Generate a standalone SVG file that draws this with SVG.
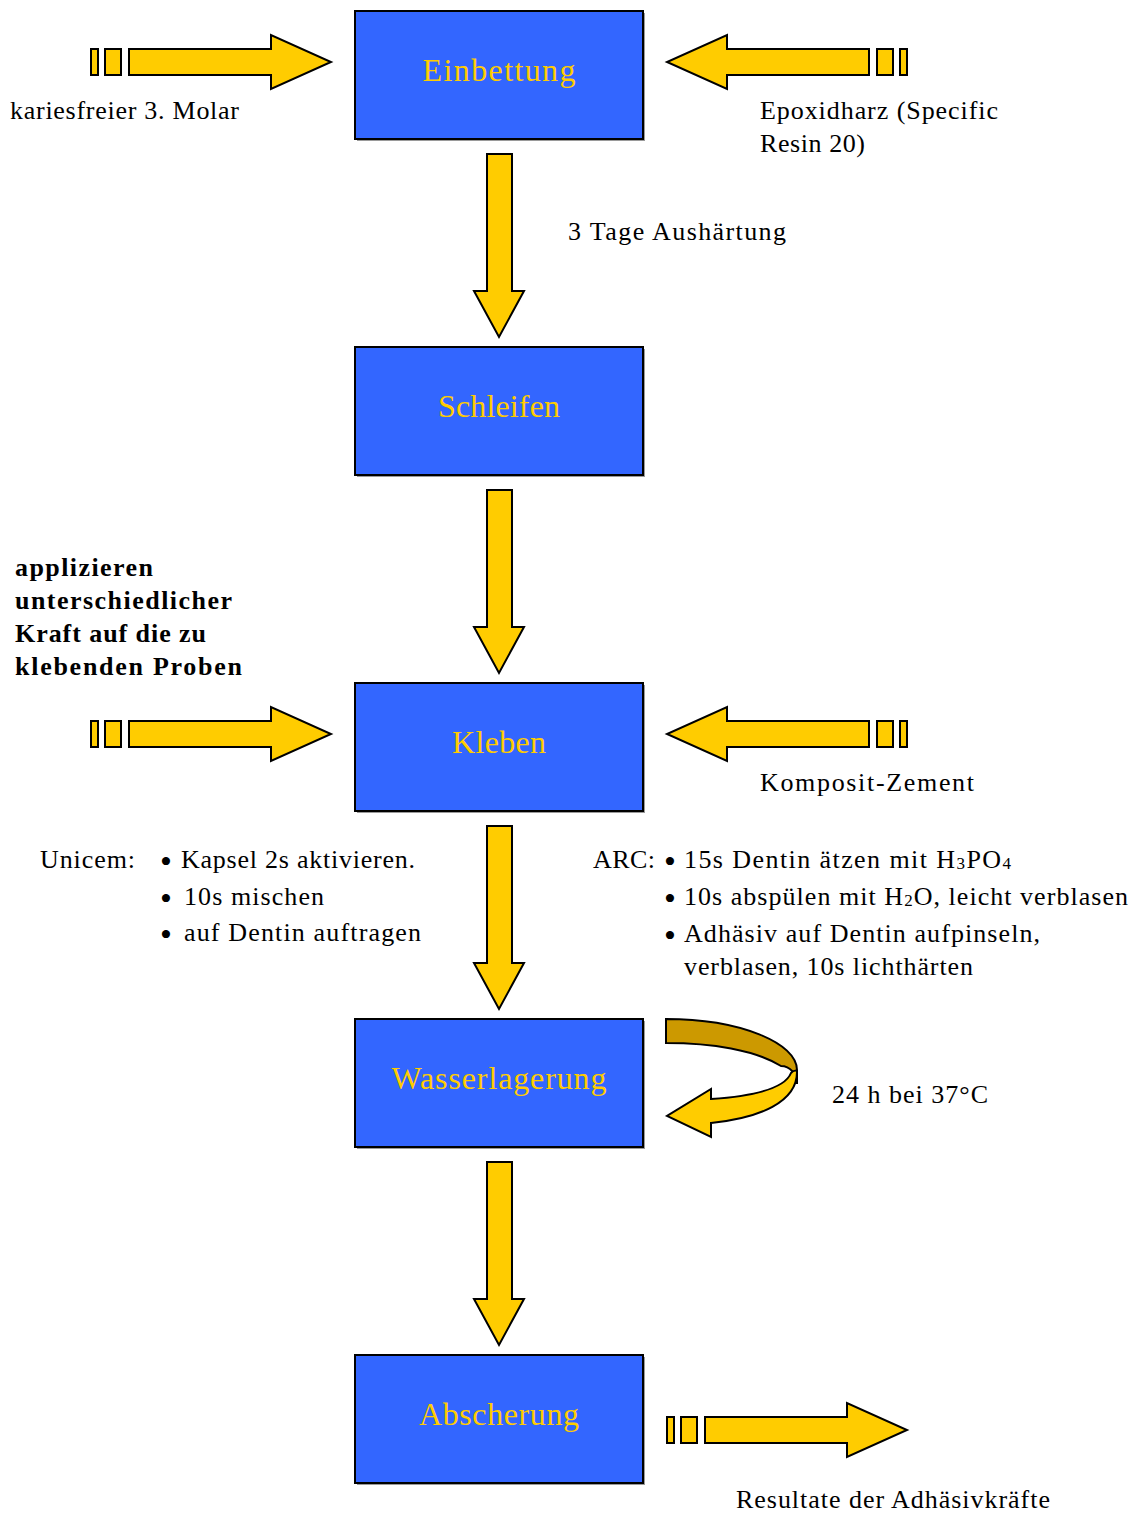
<svg xmlns="http://www.w3.org/2000/svg" width="1138" height="1514" viewBox="0 0 1138 1514">
<style>
.box{fill:#3366FF;stroke:#000;stroke-width:2}
.shadow{fill:#9a9a9a}
.bt{font-family:"Liberation Serif",serif;font-size:32px;fill:#FFCC00;text-anchor:middle}
.t{font-family:"Liberation Serif",serif;font-size:26px;fill:#000}
.b{font-family:"Liberation Serif",serif;font-size:26px;font-weight:bold;fill:#000}
.bul{font-family:"Liberation Serif",serif;font-size:34px;fill:#000;text-anchor:middle}
.arr{fill:#FFCC00;stroke:#000;stroke-width:2;stroke-linejoin:miter}
.dark{fill:#CC9900;stroke:#000;stroke-width:2}
</style>
<defs>
<g id="sideArrow">
<rect class="arr" x="91" y="-13" width="7" height="26"/>
<rect class="arr" x="105" y="-13" width="16" height="26"/>
<path class="arr" d="M129,-13 L271,-13 L271,-27 L331,0 L271,27 L271,13 L129,13 Z"/>
</g>
<path id="downArrow" class="arr" d="M487,154 L512,154 L512,291 L524,291 L499,337 L474,291 L487,291 Z"/>
</defs>

<g id="connectors">
<use href="#sideArrow" transform="translate(0,62)"/>
<use href="#sideArrow" transform="translate(998,62) scale(-1,1)"/>
<use href="#sideArrow" transform="translate(0,734)"/>
<use href="#sideArrow" transform="translate(998,734) scale(-1,1)"/>
<use href="#sideArrow" transform="translate(576,1430)"/>
<use href="#downArrow"/>
<use href="#downArrow" transform="translate(0,336)"/>
<use href="#downArrow" transform="translate(0,672)"/>
<use href="#downArrow" transform="translate(0,1008)"/>
<g id="loopArrow">
<path class="dark" d="M666,1019 C740,1019 797,1043 797,1070 L797,1084 C797,1074 790,1066 781,1066 C755,1050 712,1043 666,1043 Z"/>
<path class="arr" d="M797,1072 C797,1102 760,1118 711,1123 L711,1137 L667,1116 L711,1089 L711,1099 C755,1096 785,1088 791,1073 C794,1070 797,1070 797,1072 Z"/>
</g>
</g>

<g id="n1">
<rect class="shadow" x="357" y="13" width="288" height="128"/>
<rect class="box" x="355" y="11" width="288" height="128"/>
<text class="bt" x="499" y="81" textLength="153">Einbettung</text>
</g>
<g id="n2">
<rect class="shadow" x="357" y="349" width="288" height="128"/>
<rect class="box" x="355" y="347" width="288" height="128"/>
<text class="bt" x="499" y="417" textLength="122">Schleifen</text>
</g>
<g id="n3">
<rect class="shadow" x="357" y="685" width="288" height="128"/>
<rect class="box" x="355" y="683" width="288" height="128"/>
<text class="bt" x="499" y="753" textLength="94">Kleben</text>
</g>
<g id="n4">
<rect class="shadow" x="357" y="1021" width="288" height="128"/>
<rect class="box" x="355" y="1019" width="288" height="128"/>
<text class="bt" x="499" y="1089" textLength="215">Wasserlagerung</text>
</g>
<g id="n5">
<rect class="shadow" x="357" y="1357" width="288" height="128"/>
<rect class="box" x="355" y="1355" width="288" height="128"/>
<text class="bt" x="499" y="1425" textLength="160">Abscherung</text>
</g>

<g id="labels">
<text class="t" x="10" y="119" textLength="229">kariesfreier 3. Molar</text>
<text class="t" x="760" y="119" textLength="238">Epoxidharz (Specific</text>
<text class="t" x="760" y="152" textLength="105">Resin 20)</text>
<text class="t" x="568" y="240" textLength="218">3 Tage Aushärtung</text>
<text class="b" x="15" y="576" textLength="138">applizieren</text>
<text class="b" x="15" y="609" textLength="217">unterschiedlicher</text>
<text class="b" x="15" y="642" textLength="191">Kraft auf die zu</text>
<text class="b" x="15" y="675" textLength="227">klebenden Proben</text>
<text class="t" x="760" y="791" textLength="214">Komposit-Zement</text>
<text class="t" x="40" y="868" textLength="95">Unicem:</text>
<text class="bul" x="166" y="873">•</text>
<text class="t" x="181" y="868" textLength="234">Kapsel 2s aktivieren.</text>
<text class="bul" x="166" y="910">•</text>
<text class="t" x="184" y="905" textLength="140">10s mischen</text>
<text class="bul" x="166" y="946">•</text>
<text class="t" x="184" y="941" textLength="237">auf Dentin auftragen</text>
<text class="t" x="593" y="868" textLength="62">ARC:</text>
<text class="bul" x="670" y="873">•</text>
<text class="t" x="684" y="868" textLength="327">15s Dentin ätzen mit H<tspan font-size="17" dy="1">3</tspan><tspan dy="-1">PO</tspan><tspan font-size="17" dy="1">4</tspan></text>
<text class="bul" x="670" y="910">•</text>
<text class="t" x="684" y="905" textLength="444">10s abspülen mit H<tspan font-size="17" dy="1">2</tspan><tspan dy="-1">O, leicht verblasen</tspan></text>
<text class="bul" x="670" y="947">•</text>
<text class="t" x="684" y="942" textLength="356">Adhäsiv auf Dentin aufpinseln,</text>
<text class="t" x="684" y="975" textLength="289">verblasen, 10s lichthärten</text>
<text class="t" x="832" y="1103" textLength="156">24 h bei 37°C</text>
<text class="t" x="736" y="1508" textLength="314">Resultate der Adhäsivkräfte</text>
</g>
</svg>
